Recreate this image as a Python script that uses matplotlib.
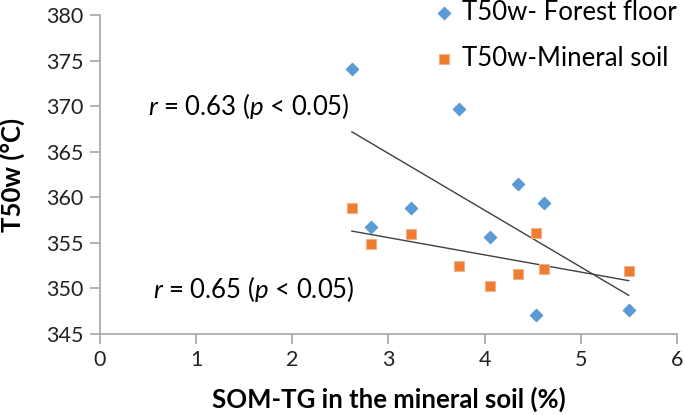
import numpy as np
import matplotlib
matplotlib.use('Agg')
import matplotlib.pyplot as plt

plt.rcParams['font.family'] = ['Lato', 'DejaVu Sans']
plt.rcParams['mathtext.fontset'] = 'custom'
plt.rcParams['mathtext.rm'] = 'Lato'
plt.rcParams['mathtext.it'] = 'Lato:italic'

# SOM-TG in the mineral soil (%)
som_tg = [2.62, 2.82, 3.23, 3.73, 4.06, 4.35, 4.54, 4.62, 5.50]
t50w_forest = [374.1, 356.7, 358.8, 369.7, 355.7, 361.5, 347.1, 359.4, 347.6]
t50w_mineral = [358.8, 354.9, 356.0, 352.5, 350.3, 351.6, 356.1, 352.1, 351.9]

blue = '#5B9BD5'
orange = '#ED7D31'
axis_grey = '#A6A6A6'

fig = plt.figure(figsize=(6.85, 4.15), dpi=100)
ax = fig.add_axes([0.146, 0.195, 0.842, 0.769])

ax.scatter(som_tg, t50w_forest, marker='D', s=38, color=blue, zorder=3,
           label='T50w- Forest floor')
ax.scatter(som_tg, t50w_mineral, marker='s', s=62, color=orange,
           edgecolors='#F4B183', linewidths=0.8, zorder=3,
           label='T50w-Mineral soil')

# linear trend lines
xs = np.array([min(som_tg), max(som_tg)])
for ys in (t50w_forest, t50w_mineral):
    k, b = np.polyfit(som_tg, ys, 1)
    ax.plot(xs, k * xs + b, color='#404040', lw=1.0, zorder=2)

ax.text(0.50, 370.0, r'$\it{r}$ = 0.63 ($\it{p}$ < 0.05)', fontsize=18.5,
        va='center', ha='left')
ax.text(0.55, 349.9, r'$\it{r}$ = 0.65 ($\it{p}$ < 0.05)', fontsize=18.5,
        va='center', ha='left')

ax.set_xlim(0, 6)
ax.set_ylim(345, 380)
ax.set_xticks(range(0, 7))
ax.set_yticks(range(345, 381, 5))

for side in ('top', 'right'):
    ax.spines[side].set_visible(False)
for side in ('left', 'bottom'):
    ax.spines[side].set_color(axis_grey)
    ax.spines[side].set_linewidth(1.2)
ax.tick_params(colors=axis_grey, labelcolor='#222222', labelsize=15.5,
               length=7.2, width=1.2, pad=4.5)

ax.set_xlabel('SOM-TG in the mineral soil (%)', fontsize=18.5,
              fontweight='bold')
ax.set_ylabel('T50w (°C)', fontsize=18.5, fontweight='bold')
ax.xaxis.set_label_coords(0.5, -0.165)
ax.yaxis.set_label_coords(-0.13, 0.5)

ax.legend(loc='upper left', bbox_to_anchor=(433.7 / 685, 1.0),
          bbox_transform=fig.transFigure, frameon=False, fontsize=18.5,
          borderpad=0, borderaxespad=0, handletextpad=0.3,
          labelspacing=0.8, handlelength=0.8)

fig.savefig('out.png', dpi=100)
